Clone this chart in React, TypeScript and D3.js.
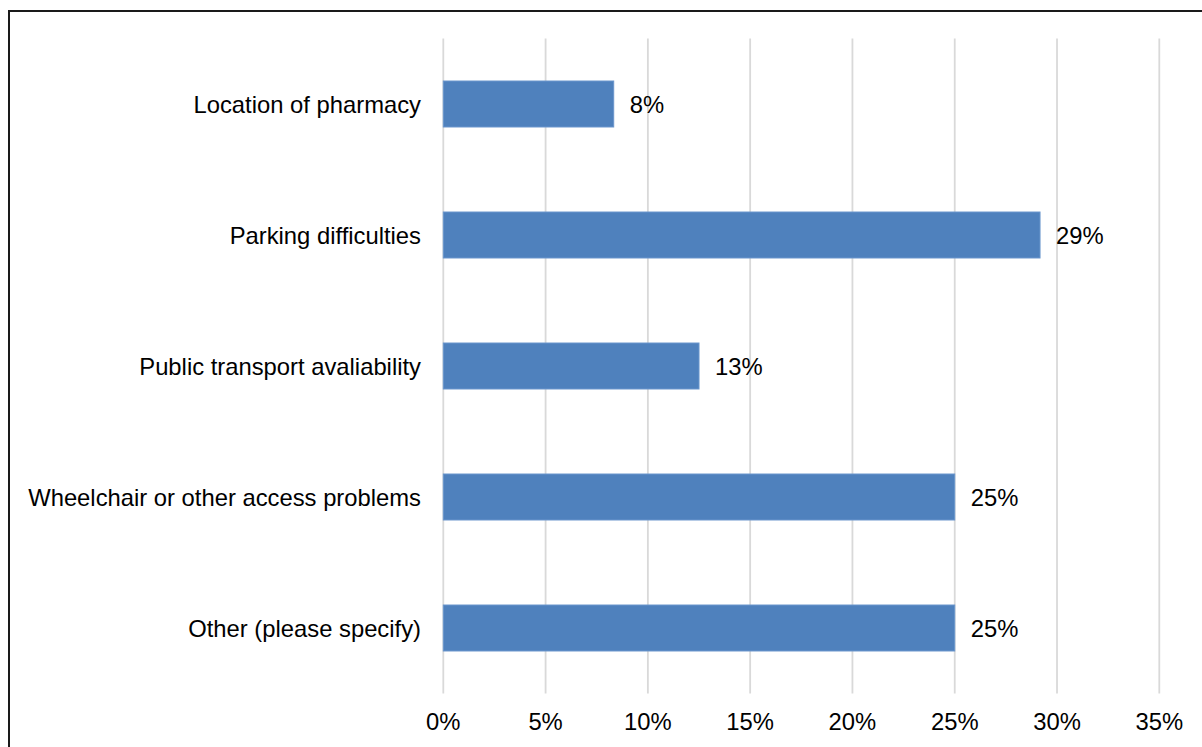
import React from "react";
import * as d3 from "d3";

const categories = [
  "Location of pharmacy",
  "Parking difficulties",
  "Public transport avaliability",
  "Wheelchair or other access problems",
  "Other (please specify)",
];
const values = [0.0833, 0.2917, 0.125, 0.25, 0.25];
const valueLabels = ["8%", "29%", "13%", "25%", "25%"];
const ticks = [0, 0.05, 0.1, 0.15, 0.2, 0.25, 0.3, 0.35];

const W = 1202;
const H = 747;
const FONT = "'Liberation Sans', Arial, sans-serif";
const FS = 23.8;

export default function App() {
  const x = d3.scaleLinear().domain([0, 0.35]).range([443.3, 1159.3]);
  const y = d3
    .scaleBand<string>()
    .domain(categories)
    .range([38.5, 693.5])
    .paddingInner(0.649)
    .paddingOuter(0.3245);
  const fmt = d3.format(".0%");
  return (
    <svg
      width={W}
      height={H}
      style={{ position: "absolute", left: 0, top: 0, display: "block", background: "#fff" }}
    >
      <rect x={9} y={11} width={2000} height={2000} fill="none" stroke="#1a1a1a" strokeWidth={2} />
      {ticks.map((t) => (
        <line
          key={"g" + t}
          x1={x(t)}
          x2={x(t)}
          y1={38.5}
          y2={693.5}
          stroke="#d9d9d9"
          strokeWidth={1.8}
        />
      ))}
      {categories.map((c, i) => (
        <g key={c}>
          <rect
            x={x(0)}
            y={y(c)}
            width={x(values[i]) - x(0)}
            height={y.bandwidth()}
            fill="#4f81bd"
            stroke="#6a96cc"
            strokeWidth={1}
          />
          <text
            x={x(values[i]) + 16}
            y={(y(c) as number) + y.bandwidth() / 2}
            dy="0.36em"
            fontFamily={FONT}
            fontSize={FS}
            fill="#000"
          >
            {valueLabels[i]}
          </text>
          <text
            x={421}
            y={(y(c) as number) + y.bandwidth() / 2}
            dy="0.36em"
            textAnchor="end"
            fontFamily={FONT}
            fontSize={FS}
            fill="#000"
          >
            {c}
          </text>
        </g>
      ))}
      {ticks.map((t) => (
        <text
          key={"t" + t}
          x={x(t)}
          y={730}
          textAnchor="middle"
          fontFamily={FONT}
          fontSize={FS}
          fill="#000"
        >
          {fmt(t)}
        </text>
      ))}
    </svg>
  );
}
